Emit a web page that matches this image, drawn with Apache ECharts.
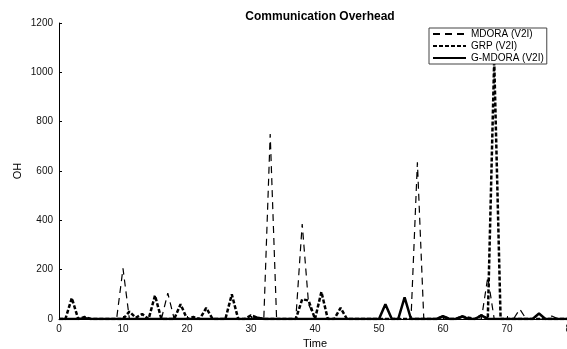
<!DOCTYPE html>
<html lang="en">

<head>
  <meta charset="UTF-8">
  <title>Communication Overhead</title>
  <script src="https://cdn.jsdelivr.net/npm/echarts@6.0.0/dist/echarts.min.js"></script>
  <style>
    html, body { margin: 0; padding: 0; background: #fff; }
  </style>
</head>

<body>
  <div id="main" style="width: 567px;height:349px;"></div>

  <script type="text/javascript">
    // time steps 0..80
    var time = [0, 1, 2, 3, 4, 5, 6, 7, 8, 9, 10, 11, 12, 13, 14, 15, 16, 17, 18, 19, 20,
      21, 22, 23, 24, 25, 26, 27, 28, 29, 30, 31, 32, 33, 34, 35, 36, 37, 38, 39, 40,
      41, 42, 43, 44, 45, 46, 47, 48, 49, 50, 51, 52, 53, 54, 55, 56, 57, 58, 59, 60,
      61, 62, 63, 64, 65, 66, 67, 68, 69, 70, 71, 72, 73, 74, 75, 76, 77, 78, 79, 80];

    var mdora = [0, 0, 0, 0, 5, 0, 0, 0, 0, 0, 205, 0, 0, 0, 0, 0, 0, 105, 0, 0, 0,
      0, 0, 0, 0, 0, 0, 0, 0, 0, 0, 0, 0, 750, 0, 0, 0, 0, 385, 60, 0,
      0, 0, 0, 0, 0, 0, 0, 0, 0, 0, 0, 0, 0, 0, 0, 635, 0, 0, 0, 0,
      0, 0, 0, 0, 0, 0, 170, 0, 0, 0, 0, 40, 0, 0, 0, 0, 12, 0, 0, 0];

    var grp = [0, 0, 85, 0, 8, 0, 0, 0, 0, 0, 0, 30, 5, 20, 0, 95, 0, 0, 0, 60, 0,
      8, 0, 45, 0, 0, 0, 100, 0, 0, 15, 5, 0, 0, 0, 0, 0, 0, 80, 75, 0,
      110, 0, 0, 45, 0, 0, 0, 0, 0, 0, 0, 0, 0, 0, 0, 0, 0, 0, 0, 10,
      0, 0, 10, 5, 0, 15, 0, 1050, 0, 0, 0, 0, 0, 0, 0, 0, 0, 0, 0, 0];

    var gmdora = [0, 0, 0, 0, 3, 0, 0, 0, 0, 0, 0, 0, 0, 0, 0, 0, 0, 0, 0, 0, 0,
      0, 0, 0, 0, 0, 0, 0, 0, 0, 0, 5, 0, 0, 0, 0, 0, 0, 0, 0, 0,
      0, 0, 0, 0, 0, 0, 0, 0, 0, 0, 60, 0, 0, 88, 0, 0, 0, 0, 0, 12,
      0, 0, 10, 0, 0, 15, 0, 0, 0, 0, 0, 0, 0, 0, 22, 0, 0, 0, 0, 0];

    var yTicks = [0, 200, 400, 600, 800, 1000, 1200];

    function pairs(vals) {
      return time.map(function (t, i) { return [t, vals[i]]; });
    }

    var font = 'Liberation Sans, Arial, sans-serif';

    var option = {
      animation: false,
      backgroundColor: '#fff',
      title: {
        text: 'Communication Overhead',
        left: 315,
        top: 6,
        textAlign: 'center',
        textStyle: { fontFamily: font, fontSize: 12, fontWeight: 'bold', color: '#000' }
      },
      legend: {
        orient: 'vertical',
        left: 429,
        top: 28,
        padding: [1, 3, 1, 3],
        itemGap: 2,
        itemWidth: 33,
        itemHeight: 10,
        itemTextGap: 3,
        borderColor: '#444',
        borderWidth: 1,
        backgroundColor: '#fff',
        itemStyle: { opacity: 0 },
        textStyle: { fontFamily: font, fontSize: 10, color: '#000' },
        data: ['MDORA (V2I)', 'GRP (V2I)', 'G-MDORA (V2I)']
      },
      grid: { left: 59, top: 23, width: 512, bottom: 30, outerBoundsMode: 'none', containLabel: false },
      xAxis: {
        type: 'value',
        min: 0,
        max: 80,
        interval: 10,
        name: 'Time',
        nameLocation: 'middle',
        nameGap: 15,
        nameTextStyle: { fontFamily: font, fontSize: 11, color: '#000' },
        axisLine: { lineStyle: { color: '#000', width: 1 } },
        axisTick: { inside: true, length: 3, lineStyle: { color: '#000' } },
        axisLabel: { fontFamily: font, fontSize: 10, color: '#111', margin: 5 },
        splitLine: { show: false }
      },
      yAxis: {
        type: 'value',
        min: yTicks[0],
        max: yTicks[yTicks.length - 1],
        interval: 200,
        name: 'OH',
        nameLocation: 'middle',
        nameGap: 36,
        nameMoveOverlap: false,
        nameTextStyle: { fontFamily: font, fontSize: 11, color: '#000' },
        axisLine: { show: true, lineStyle: { color: '#000', width: 1 } },
        axisTick: { show: true, inside: true, length: 3, lineStyle: { color: '#000' } },
        axisLabel: {
          fontFamily: font, fontSize: 10, color: '#111', margin: 6,
          formatter: function (v) { return String(v); }
        },
        splitLine: { show: false }
      },
      series: [
        {
          name: 'MDORA (V2I)',
          type: 'line',
          symbol: 'none',
          data: pairs(mdora),
          lineStyle: { color: '#000', width: 1.2, type: [7, 5] },
          itemStyle: { color: '#000' }
        },
        {
          name: 'GRP (V2I)',
          type: 'line',
          symbol: 'none',
          data: pairs(grp),
          lineStyle: { color: '#000', width: 2.5, type: [4, 2] },
          itemStyle: { color: '#000' }
        },
        {
          name: 'G-MDORA (V2I)',
          type: 'line',
          symbol: 'none',
          data: pairs(gmdora),
          lineStyle: { color: '#000', width: 2.5 },
          itemStyle: { color: '#000' }
        }
      ]
    };

    var myChart = echarts.init(document.getElementById('main'));
    myChart.setOption(option);
  </script>
</body>

</html>
